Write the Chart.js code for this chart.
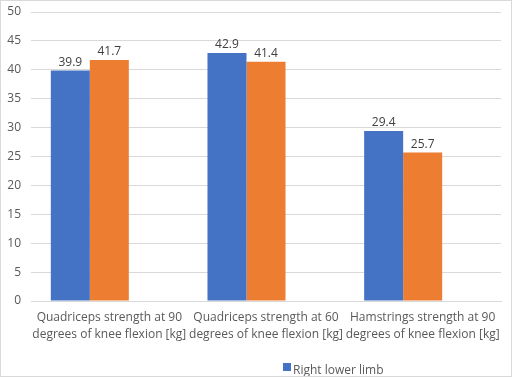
<!DOCTYPE html>
<html>
<head>
<meta charset="utf-8">
<script src="https://cdn.jsdelivr.net/npm/chart.js@4.4.1/dist/chart.umd.min.js"></script>
<style>
  html, body { margin: 0; padding: 0; background: #fff; }
  .wrap { width: 512px; height: 377px; box-sizing: border-box; border: 1px solid #d9d9d9; position: relative; }
</style>
</head>
<body>
<div class="wrap"><canvas id="chart"></canvas></div>
<script>
// values
var categories = [
    ['Quadriceps strength at 90', 'degrees of knee flexion [kg]'],
    ['Quadriceps strength at 60', 'degrees of knee flexion [kg]'],
    ['Hamstrings strength at 90', 'degrees of knee flexion [kg]']
];
var rightLimb = [39.9, 42.9, 29.4];
var leftLimb = [41.7, 41.4, 25.7];
var emptySeries = [null, null, null];
var seriesNames = ['Right lower limb', 'Left lower limb', ''];

var FONT = '"Open Sans", sans-serif';

// value labels above each bar
var barValues = {
    id: 'barValues',
    afterDatasetsDraw: function (chart) {
        var ctx = chart.ctx;
        ctx.save();
        ctx.font = '12px ' + FONT;
        ctx.fillStyle = '#404040';
        ctx.textAlign = 'center';
        ctx.textBaseline = 'bottom';
        chart.data.datasets.forEach(function (ds, i) {
            chart.getDatasetMeta(i).data.forEach(function (bar, j) {
                if (ds.data[j] == null) return;
                ctx.fillText(ds.data[j].toFixed(1), bar.x, bar.y - 2);
            });
        });
        ctx.restore();
    }
};

// the reference legend only shows the first series, off-centre
var bottomKey = {
    id: 'bottomKey',
    afterDraw: function (chart) {
        var ctx = chart.ctx;
        var ds = chart.data.datasets[0];
        ctx.save();
        ctx.fillStyle = ds.backgroundColor;
        ctx.fillRect(282, 362, 8, 8);
        ctx.font = '12px ' + FONT;
        ctx.fillStyle = '#595959';
        ctx.textBaseline = 'alphabetic';
        ctx.fillText(ds.label, 292, 373);
        ctx.restore();
    }
};

var chart = new Chart(document.getElementById('chart'), {
    type: 'bar',
    data: {
        labels: categories,
        datasets: [
            { label: seriesNames[0], data: rightLimb, backgroundColor: '#4472c4' },
            { label: seriesNames[1], data: leftLimb, backgroundColor: '#ed7d31' },
            { label: seriesNames[2], data: emptySeries, backgroundColor: '#a5a5a5' }
        ]
    },
    options: {
        responsive: true,
        maintainAspectRatio: false,
        animation: false,
        layout: { padding: { top: 11, right: 10, bottom: 32, left: 0 } },
        datasets: { bar: { categoryPercentage: 0.747, barPercentage: 1.0 } },
        plugins: {
            legend: { display: false },
            tooltip: { enabled: false }
        },
        scales: {
            x: {
                grid: { display: false },
                border: { color: '#d9d9d9' },
                ticks: {
                    color: '#595959',
                    font: { family: FONT, size: 12, lineHeight: 1.4 },
                    maxRotation: 0,
                    autoSkip: false,
                    padding: 0
                },
                afterFit: function (scale) { scale.height = 43; }
            },
            y: {
                min: 0,
                max: 50,
                ticks: {
                    stepSize: 5,
                    color: '#595959',
                    font: { family: FONT, size: 12 },
                    padding: 10
                },
                grid: { color: '#d9d9d9', drawTicks: false },
                border: { display: false },
                afterFit: function (scale) {
                    scale.width = 30;
                    scale.paddingTop = 0;
                    scale.paddingBottom = 0;
                }
            }
        }
    },
    plugins: [barValues, bottomKey]
});
</script>
</body>
</html>
